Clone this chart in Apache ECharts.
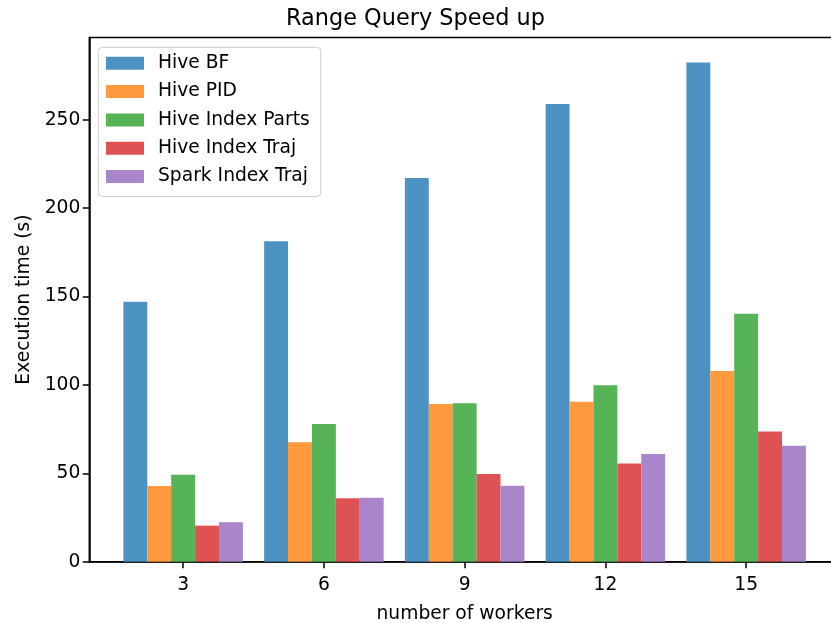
<!DOCTYPE html>
<html>
<head>
<meta charset="utf-8">
<script src="https://cdn.jsdelivr.net/npm/echarts@6/dist/echarts.min.js"></script>
<style>
html,body{margin:0;padding:0;background:#fff;overflow:hidden;}
#chart{width:831px;height:623px;}
</style>
</head>
<body>
<div id="chart"></div>
<script>
const workers = [3, 6, 9, 12, 15];
const seriesNames = ['Hive BF', 'Hive PID', 'Hive Index Parts', 'Hive Index Traj', 'Spark Index Traj'];
const hiveBF = [147, 181.3, 217, 258.9, 282.4];
const hivePID = [42.8, 67.6, 89.2, 90.5, 107.9];
const hiveIndexParts = [49.2, 77.9, 89.6, 99.8, 140.2];
const hiveIndexTraj = [20.4, 35.9, 49.6, 55.5, 73.6];
const sparkIndexTraj = [22.3, 36.2, 43.0, 60.9, 65.6];
const yTicks = [0, 50, 100, 150, 200, 250];
const xTicks = [3, 6, 9, 12, 15];

const colors = ['#4c92c3', '#ff993e', '#56b356', '#de5253', '#a985ca'];
const allValues = [hiveBF, hivePID, hiveIndexParts, hiveIndexTraj, sparkIndexTraj];
const FONT = 'DejaVu Sans';

const chart = echarts.init(document.getElementById('chart'), null, {renderer: 'canvas'});
const series = allValues.map((vals, i) => ({
  name: seriesNames[i],
  type: 'bar',
  barWidth: 23.9,
  barGap: '0%',
  itemStyle: {color: colors[i]},
  data: vals.map((v, j) => [workers[j], v])
}));

chart.setOption({
  animation: false,
  backgroundColor: '#ffffff',
  textStyle: {fontFamily: FONT},
  title: {
    text: 'Range Query Speed up',
    left: 'center',
    top: 8,
    padding: 0,
    textStyle: {fontFamily: FONT, fontSize: 22.4, fontWeight: 'normal', color: '#000'}
  },
  grid: {
    left: 89.3, top: 37.5, bottom: 61.3, right: -9,
    containLabel: false, outerBoundsMode: 'none',
    show: true, borderColor: '#000', borderWidth: 1.5, backgroundColor: 'transparent'
  },
  legend: {
    orient: 'vertical',
    left: 98.3,
    top: 47.3,
    padding: [6.5, 11, 10.5, 7.7],
    itemWidth: 38,
    itemHeight: 13,
    itemGap: 9.3,
    icon: 'rect',
    backgroundColor: 'rgba(255,255,255,0.8)',
    borderColor: '#cccccc',
    borderWidth: 1,
    borderRadius: 4,
    data: seriesNames,
    textStyle: {fontFamily: FONT, fontSize: 18.7, lineHeight: 19, color: '#000', padding: [0, 0, 0, 9]}
  },
  xAxis: {
    type: 'value',
    min: 1,
    max: 17,
    name: 'number of workers',
    nameLocation: 'middle',
    nameGap: 43,
    nameTextStyle: {fontFamily: FONT, fontSize: 18.7, color: '#000'},
    splitLine: {show: false},
    axisLine: {show: true, onZero: false, lineStyle: {color: '#000', width: 1.5}},
    axisTick: {show: true, length: 6.5, customValues: xTicks, lineStyle: {color: '#000', width: 1.5}},
    axisLabel: {customValues: xTicks, margin: 14, fontFamily: FONT, fontSize: 18.7, color: '#000'}
  },
  yAxis: {
    type: 'value',
    min: 0,
    max: 296.5,
    name: 'Execution time (s)',
    nameLocation: 'middle',
    nameGap: 55,
    nameRotate: 90,
    nameTextStyle: {fontFamily: FONT, fontSize: 18.7, color: '#000'},
    splitLine: {show: false},
    axisLine: {show: true, onZero: false, lineStyle: {color: '#000', width: 1.5}},
    axisTick: {show: true, length: 6.5, customValues: yTicks, lineStyle: {color: '#000', width: 1.5}},
    axisLabel: {customValues: yTicks, margin: 9, fontFamily: FONT, fontSize: 18.7, color: '#000'}
  },
  series: series
});
</script>
</body>
</html>
